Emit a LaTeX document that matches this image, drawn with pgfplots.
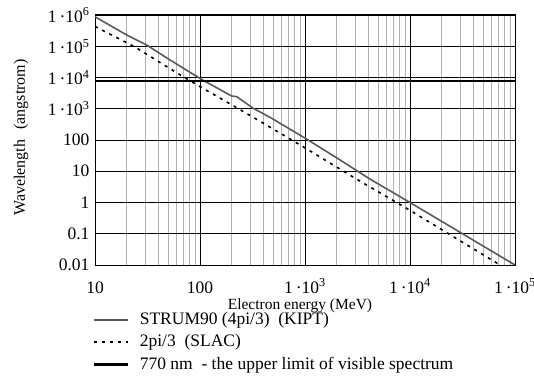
\documentclass[border=0pt]{standalone}
\usepackage{fontspec}
\setmainfont{Liberation Serif}
\usepackage{pgfplots}
\pgfplotsset{compat=1.18}
\definecolor{solidgray}{HTML}{5A5A5A}
\definecolor{minorgray}{HTML}{B0B0B0}
\begin{document}
\begin{tikzpicture}
\begin{axis}[
  scale only axis, width=420bp, height=250bp,
  xmode=log, ymode=log,
  xmin=10, xmax=1e5, ymin=0.01, ymax=1e6,
  xtick={10,100,1000,10000,100000},
  xticklabels={10,100,{1\,·10\textsuperscript{3}},{1\,·10\textsuperscript{4}},{1\,·10\textsuperscript{5}}},
  ytick={0.01,0.1,1,10,100,1000,10000,100000,1000000},
  yticklabels={0.01,0.1,1,10,100,{1\,·10\textsuperscript{3}},{1\,·10\textsuperscript{4}},{1\,·10\textsuperscript{5}},{1\,·10\textsuperscript{6}}},
  yminorticks=false,
  major tick length=0pt, minor tick length=0pt,
  xmajorgrids, xminorgrids, ymajorgrids,
  major grid style={black, line width=0.8bp},
  minor grid style={minorgray, line width=0.8bp},
  axis line style={black, line width=1bp},
  tick label style={font=\fontsize{17.5bp}{19bp}\selectfont},
  xticklabel style={inner sep=0pt, text height=12bp, text depth=4bp, anchor=north, yshift=-16bp},
  yticklabel style={xshift=-2bp},
  xlabel={Electron energy (MeV)},
  xlabel style={inner sep=0pt, font=\fontsize{15.5bp}{17bp}\selectfont, at={(axis description cs:0.488,-0.162)}, anchor=center},
  ylabel={Wavelength\hspace{10bp}(angstrom)},
  ylabel style={font=\fontsize{16bp}{18bp}\selectfont, at={(axis description cs:-0.176,0.51)}, anchor=center},
  legend cell align=left,
  legend style={at={(axis description cs:0,0)}, anchor=north west, xshift=-3bp, yshift=-46bp,
    draw=none, fill=none, inner sep=0pt, font=\fontsize{17.5bp}{19bp}\selectfont,
    nodes={inner sep=0pt, text height=13bp, text depth=4bp},
    /tikz/row sep=5.5bp, /tikz/column sep=11bp},
  legend image code/.code={\draw[#1] (0bp,0bp) -- (34bp,0bp);},
]
\addplot[solidgray, line width=1.6bp] coordinates {
 (10,8.8e5) (20,2.3e5) (31,1.1e5) (52,3.6e4) (106,8300) (200,2560) (224,2430) (322,1030) (482,494)
 (1000,115) (2000,27) (4160,5.6) (10000,1.0) (30000,0.111) (100000,0.01)};
\addlegendentry{STRUM90 (4pi/3)\ \ (KIPT)}
\addplot[black, line width=1.6bp, dash pattern=on 3bp off 5bp] coordinates {
 (10,4.3e5) (24,9.5e4) (65,1.2e4) (100,5100) (155,2200) (372,400) (1000,56) (3100,5.6)
 (10000,0.56) (72000,0.01)};
\addlegendentry{2pi/3\ \ (SLAC)}
\addplot[black, line width=2.6bp] coordinates {(10,7700) (100000,7700)};
\addlegendentry{770 nm\ \ - the upper limit of visible spectrum}
\end{axis}
\pgfresetboundingbox
\path[use as bounding box] ([shift={(-95bp,-115bp)}]current axis.south west) rectangle ([shift={(19bp,15bp)}]current axis.north east);
\end{tikzpicture}
\end{document}
